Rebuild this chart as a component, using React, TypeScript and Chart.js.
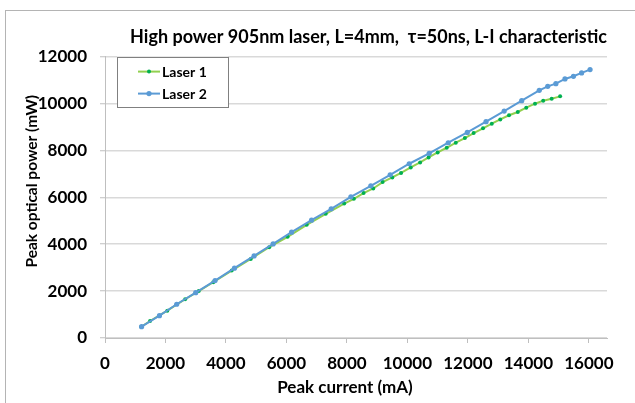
import React, { useEffect, useRef } from "react";
import { Chart, registerables } from "chart.js";

Chart.register(...registerables);

const chartTitle = "High power 905nm laser, L=4mm,  \u03C4=50ns, L-I characteristic";
const xAxisTitle = "Peak current (mA)";
const yAxisTitle = "Peak optical power (mW)";
const seriesNames = ["Laser 1", "Laser 2"];

const laser1Current = [1200, 1490, 2060, 2650, 3100, 3580, 4190, 4820, 5430, 6040, 6670, 7300, 7910, 8230, 8550, 8870, 9180, 9500, 9790, 10110, 10420, 10700, 11000, 11300, 11600, 11900, 12190, 12500, 12790, 13070, 13360, 13650, 13930, 14220, 14490, 14770, 15050];
const laser1Power = [480, 726, 1166, 1653, 2000, 2378, 2875, 3374, 3873, 4313, 4826, 5296, 5735, 5936, 6179, 6376, 6649, 6846, 7040, 7273, 7486, 7700, 7913, 8113, 8327, 8528, 8741, 8940, 9138, 9322, 9500, 9638, 9822, 9992, 10120, 10206, 10305];

const laser2Current = [1210, 1800, 2370, 3000, 3640, 4280, 4930, 5560, 6170, 6830, 7480, 8130, 8790, 9430, 10060, 10720, 11350, 11980, 12600, 13200, 13780, 14360, 14640, 14910, 15210, 15490, 15760, 16040];
const laser2Power = [483, 952, 1439, 1934, 2447, 2976, 3502, 4010, 4513, 5026, 5509, 6021, 6491, 6961, 7431, 7872, 8327, 8768, 9224, 9675, 10121, 10562, 10733, 10847, 11047, 11160, 11303, 11446];

const xTicks = [0, 2000, 4000, 6000, 8000, 10000, 12000, 14000, 16000];
const yTicks = [0, 2000, 4000, 6000, 8000, 10000, 12000];
const xMin = 0;
const xMax = 16600;
const yMin = 0;
const yMax = 12000;

const FONT = "Lato, 'Open Sans', sans-serif";

const legendBoxPlugin = {
  id: "legendBox",
  afterDatasetsDraw(chart: any) {
    const { ctx, chartArea } = chart;
    const x = chartArea.left + 12;
    const y = chartArea.top;
    const w = 111;
    const h = 50;
    ctx.save();
    ctx.fillStyle = "#ffffff";
    ctx.fillRect(x, y, w, h);
    ctx.strokeStyle = "#808080";
    ctx.lineWidth = 1;
    ctx.strokeRect(Math.round(x) + 0.5, Math.round(y) + 0.5, w, h);
    chart.data.datasets.forEach((ds: any, i: number) => {
      const cy = y + 15 + i * 22;
      ctx.strokeStyle = ds.borderColor;
      ctx.lineWidth = 2;
      ctx.beginPath();
      ctx.moveTo(x + 21, cy);
      ctx.lineTo(x + 43, cy);
      ctx.stroke();
      ctx.fillStyle = ds.pointBackgroundColor;
      ctx.beginPath();
      ctx.arc(x + 32, cy, ds.pointRadius, 0, Math.PI * 2);
      ctx.fill();
      ctx.fillStyle = "#000000";
      ctx.font = `bold 14px ${FONT}`;
      ctx.textBaseline = "middle";
      ctx.textAlign = "left";
      ctx.fillText(ds.label, x + 45, cy + 1);
    });
    ctx.restore();
  },
};

const axisTitlePlugin = {
  id: "axisTitles",
  afterDraw(chart: any) {
    const { ctx, chartArea } = chart;
    ctx.save();
    ctx.fillStyle = "#000000";
    ctx.textAlign = "center";
    ctx.textBaseline = "middle";
    ctx.font = `bold 17px ${FONT}`;
    ctx.fillText(xAxisTitle, (chartArea.left + chartArea.right) / 2 - 11, chartArea.bottom + 50);
    ctx.font = `bold 15.5px ${FONT}`;
    ctx.translate(chartArea.left - 73, (chartArea.top + chartArea.bottom) / 2 - 16);
    ctx.rotate(-Math.PI / 2);
    ctx.fillText(yAxisTitle, 0, 0);
    ctx.restore();
  },
};

export default function App() {
  const canvasRef = useRef<HTMLCanvasElement | null>(null);

  useEffect(() => {
    if (!canvasRef.current) return;
    const chart = new Chart(canvasRef.current, {
      type: "line",
      data: {
        datasets: [
          {
            label: seriesNames[0],
            data: laser1Current.map((c, i) => ({ x: c, y: laser1Power[i] })),
            borderColor: "#92D050",
            backgroundColor: "#00B050",
            pointBackgroundColor: "#00B050",
            pointBorderColor: "#00B050",
            pointRadius: 2,
            pointBorderWidth: 0,
            borderWidth: 2,
            tension: 0,
            order: 1,
          },
          {
            label: seriesNames[1],
            data: laser2Current.map((c, i) => ({ x: c, y: laser2Power[i] })),
            borderColor: "#5B9BD5",
            backgroundColor: "#5B9BD5",
            pointBackgroundColor: "#5B9BD5",
            pointBorderColor: "#5B9BD5",
            pointRadius: 2.6,
            pointBorderWidth: 0,
            borderWidth: 2,
            tension: 0,
            order: 0,
          },
        ],
      },
      options: {
        animation: false,
        responsive: false,
        layout: { padding: { left: 0, right: 28, top: 0, bottom: 0 } },
        plugins: {
          legend: { display: false },
          tooltip: { enabled: false },
          title: {
            display: true,
            text: chartTitle,
            align: "end",
            color: "#000000",
            font: { family: FONT, size: 18, weight: "bold", lineHeight: 1.2 },
            padding: { top: 26, bottom: 9 },
          },
        },
        scales: {
          x: {
            type: "linear",
            min: xMin,
            max: xMax,
            afterFit: (scale: any) => {
              scale.height = 65;
            },
            afterBuildTicks: (scale: any) => {
              scale.ticks = xTicks.map((v) => ({ value: v }));
            },
            ticks: {
              padding: 10,
              color: "#000000",
              font: { family: FONT, size: 17, weight: "bold" },
              maxRotation: 0,
              autoSkip: false,
              callback: (v: any) => String(v),
            },
            grid: {
              drawOnChartArea: false,
              drawTicks: true,
              tickLength: 5,
              tickColor: "#bfbfbf",
              color: "#bfbfbf",
            },
            border: { display: true, color: "#bfbfbf", width: 1 },
          },
          y: {
            type: "linear",
            min: yMin,
            max: yMax,
            afterFit: (scale: any) => {
              scale.width = 105;
            },
            afterBuildTicks: (scale: any) => {
              scale.ticks = yTicks.map((v) => ({ value: v }));
            },
            ticks: {
              padding: 13,
              color: "#000000",
              font: { family: FONT, size: 17, weight: "bold" },
              autoSkip: false,
              callback: (v: any) => String(v),
            },
            grid: {
              color: "#d9d9d9",
              lineWidth: 1.5,
              drawTicks: true,
              tickLength: 5,
              tickColor: "#bfbfbf",
              tickWidth: 1,
            },
            border: { display: true, color: "#bfbfbf", width: 1 },
          },
        },
      },
      plugins: [legendBoxPlugin, axisTitlePlugin],
    } as any);
    return () => chart.destroy();
  }, []);

  return (
    <div style={{ position: "fixed", left: 0, top: 0, width: 635, height: 403, background: "#ffffff", overflow: "hidden" }}>
      <div
        style={{
          position: "absolute",
          left: 5,
          top: 10,
          width: 700,
          height: 500,
          borderLeft: "1px solid #b4b4b4",
          borderTop: "1px solid #b4b4b4",
        }}
      />
      <canvas
        ref={canvasRef}
        width={635}
        height={403}
        style={{ position: "absolute", left: 0, top: 0, display: "block" }}
      />
    </div>
  );
}
